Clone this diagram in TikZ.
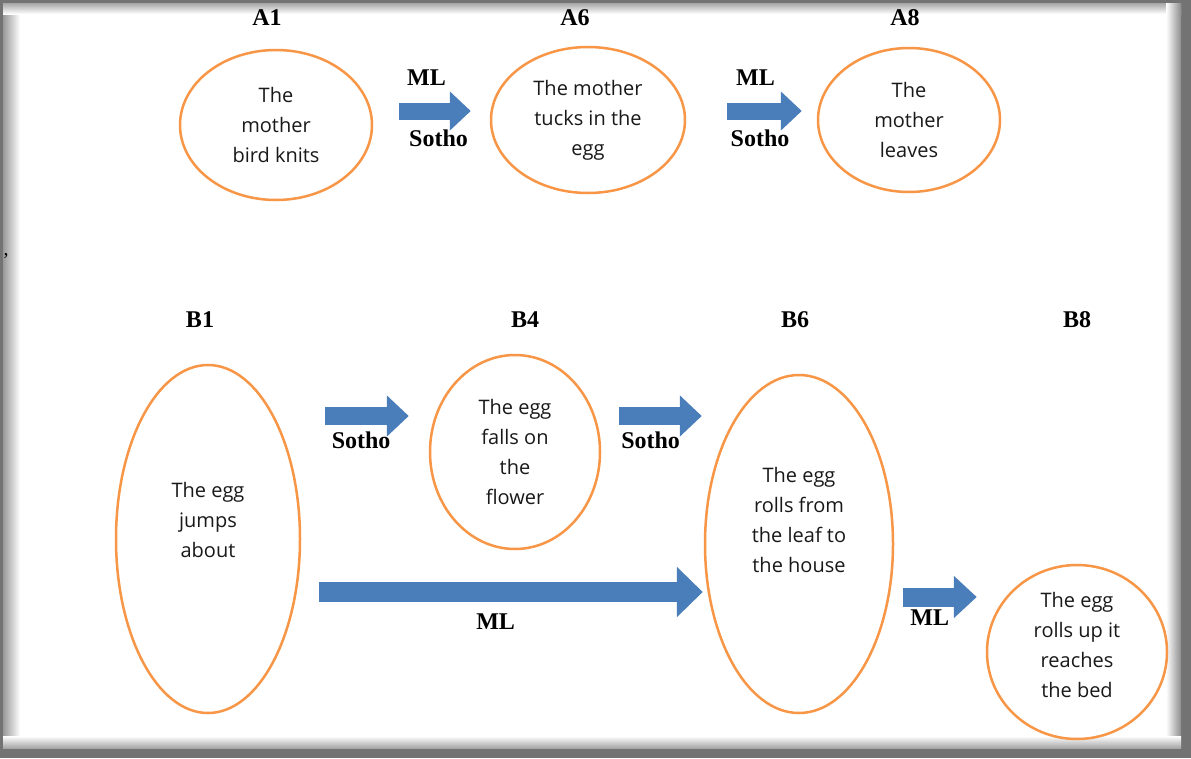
\documentclass[tikz,border=0pt]{standalone}
\usepackage{fontspec}
\setmainfont{Open Sans}
\newfontfamily\tagfont{Liberation Serif}
\usetikzlibrary{shapes.geometric,arrows.meta,calc}
\definecolor{ringorange}{HTML}{F79646}
\definecolor{arrowblue}{HTML}{4A7EBB}
\tikzset{
  bubble/.style={draw=ringorange,line width=2.5pt,ellipse,align=center,
    inner sep=0pt,text=black!90,font=\fontsize{20}{30}\selectfont},
  tag/.style={inner sep=2pt,outer sep=0pt,font=\tagfont\bfseries\fontsize{24}{26}\selectfont},
  blockarrow/.style={draw=arrowblue,line width=17pt,
    -{Triangle[length=21pt,width=38pt]}},
}
\begin{document}
\begin{tikzpicture}[x=1pt,y=-1pt]
% frame with inner shadow
\fill[black!55] (0,0) rectangle (1191,758);
\fill[white] (3,3) rectangle (1181,748);
\shade[left color=black!40,right color=white] (3,3) rectangle (20,748);
\shade[top color=black!35,bottom color=white] (3,3) rectangle (1181,14);
\shade[left color=white,right color=black!45] (1166,3) rectangle (1181,748);
\shade[top color=white,bottom color=black!35] (3,736) rectangle (1181,748);
\useasboundingbox (0,0) rectangle (1191,758);
\node[inner sep=0pt,font=\tagfont\fontsize{20}{22}\selectfont] (comma) at (6,256) {,};
% top row
\node[bubble,minimum width=192pt,minimum height=150pt] (a1) at (276,125)
  {The\\mother\\bird knits};
\node[bubble,minimum width=194pt,minimum height=146pt] (a6) at (588,120)
  {The mother\\tucks in the\\egg};
\node[bubble,minimum width=182pt,minimum height=144pt] (a8) at (909,120)
  {The\\mother\\leaves};
\node[tag] (a1tag) at (267,18) {A1};
\node[tag] (a6tag) at (575,18) {A6};
\node[tag] (a8tag) at (905,18) {A8};
\draw[blockarrow] ($(a1.east)+(26,-14)$) -- ($(a6.west)+(-19,-9)$)
  node[tag,pos=0.38,above=24pt]{ML}
  node[tag,pos=0.55,below=17pt]{Sotho};
\draw[blockarrow] ($(a6.east)+(41,-9)$) -- ($(a8.west)+(-15,-9)$)
  node[tag,pos=0.38,above=24pt]{ML}
  node[tag,pos=0.44,below=17pt]{Sotho};
% bottom row
\node[bubble,minimum width=184pt,minimum height=348pt,text depth=38pt] (b1) at (208,539)
  {The egg\\jumps\\about};
\node[bubble,minimum width=170pt,minimum height=194pt] (b4) at (515,452)
  {The egg\\falls on\\the\\flower};
\node[bubble,minimum width=188pt,minimum height=338pt,text depth=48pt] (b6) at (799,544)
  {The egg\\rolls from\\the leaf to\\the house};
\node[bubble,minimum width=180pt,minimum height=174pt,text depth=14pt] (b8) at (1077,652)
  {The egg\\rolls up it\\reaches\\the bed};
\node[tag] (b1tag) at (200,320) {B1};
\node[tag] (b4tag) at (525,320) {B4};
\node[tag] (b6tag) at (795,320) {B6};
\node[tag] (b8tag) at (1077,320) {B8};
\draw[blockarrow,line width=18pt,-{Triangle[length=22pt,width=40pt]}]
  ($(b1.east)+(24,-123)$) -- ($(b4.west)+(-20,-36)$)
  node[tag,pos=0.43,below=14pt]{Sotho};
\draw[blockarrow,line width=18pt,-{Triangle[length=22pt,width=40pt]}]
  ($(b4.east)+(18,-36)$) -- ($(b6.west)+(-2,-128)$)
  node[tag,pos=0.38,below=14pt]{Sotho};
\draw[blockarrow,line width=20pt,-{Triangle[length=26pt,width=49pt]}]
  ($(b1.east)+(18,53)$) -- ($(b6.west)+(-1,48)$)
  node[tag,pos=0.46,below=20pt]{ML};
\draw[blockarrow,line width=19pt,-{Triangle[length=23pt,width=41pt]}]
  ($(b6.east)+(9,53)$) -- ($(b8.west)+(-9,-55)$)
  node[tag,pos=0.36,below=11pt]{ML};
\end{tikzpicture}
\end{document}
